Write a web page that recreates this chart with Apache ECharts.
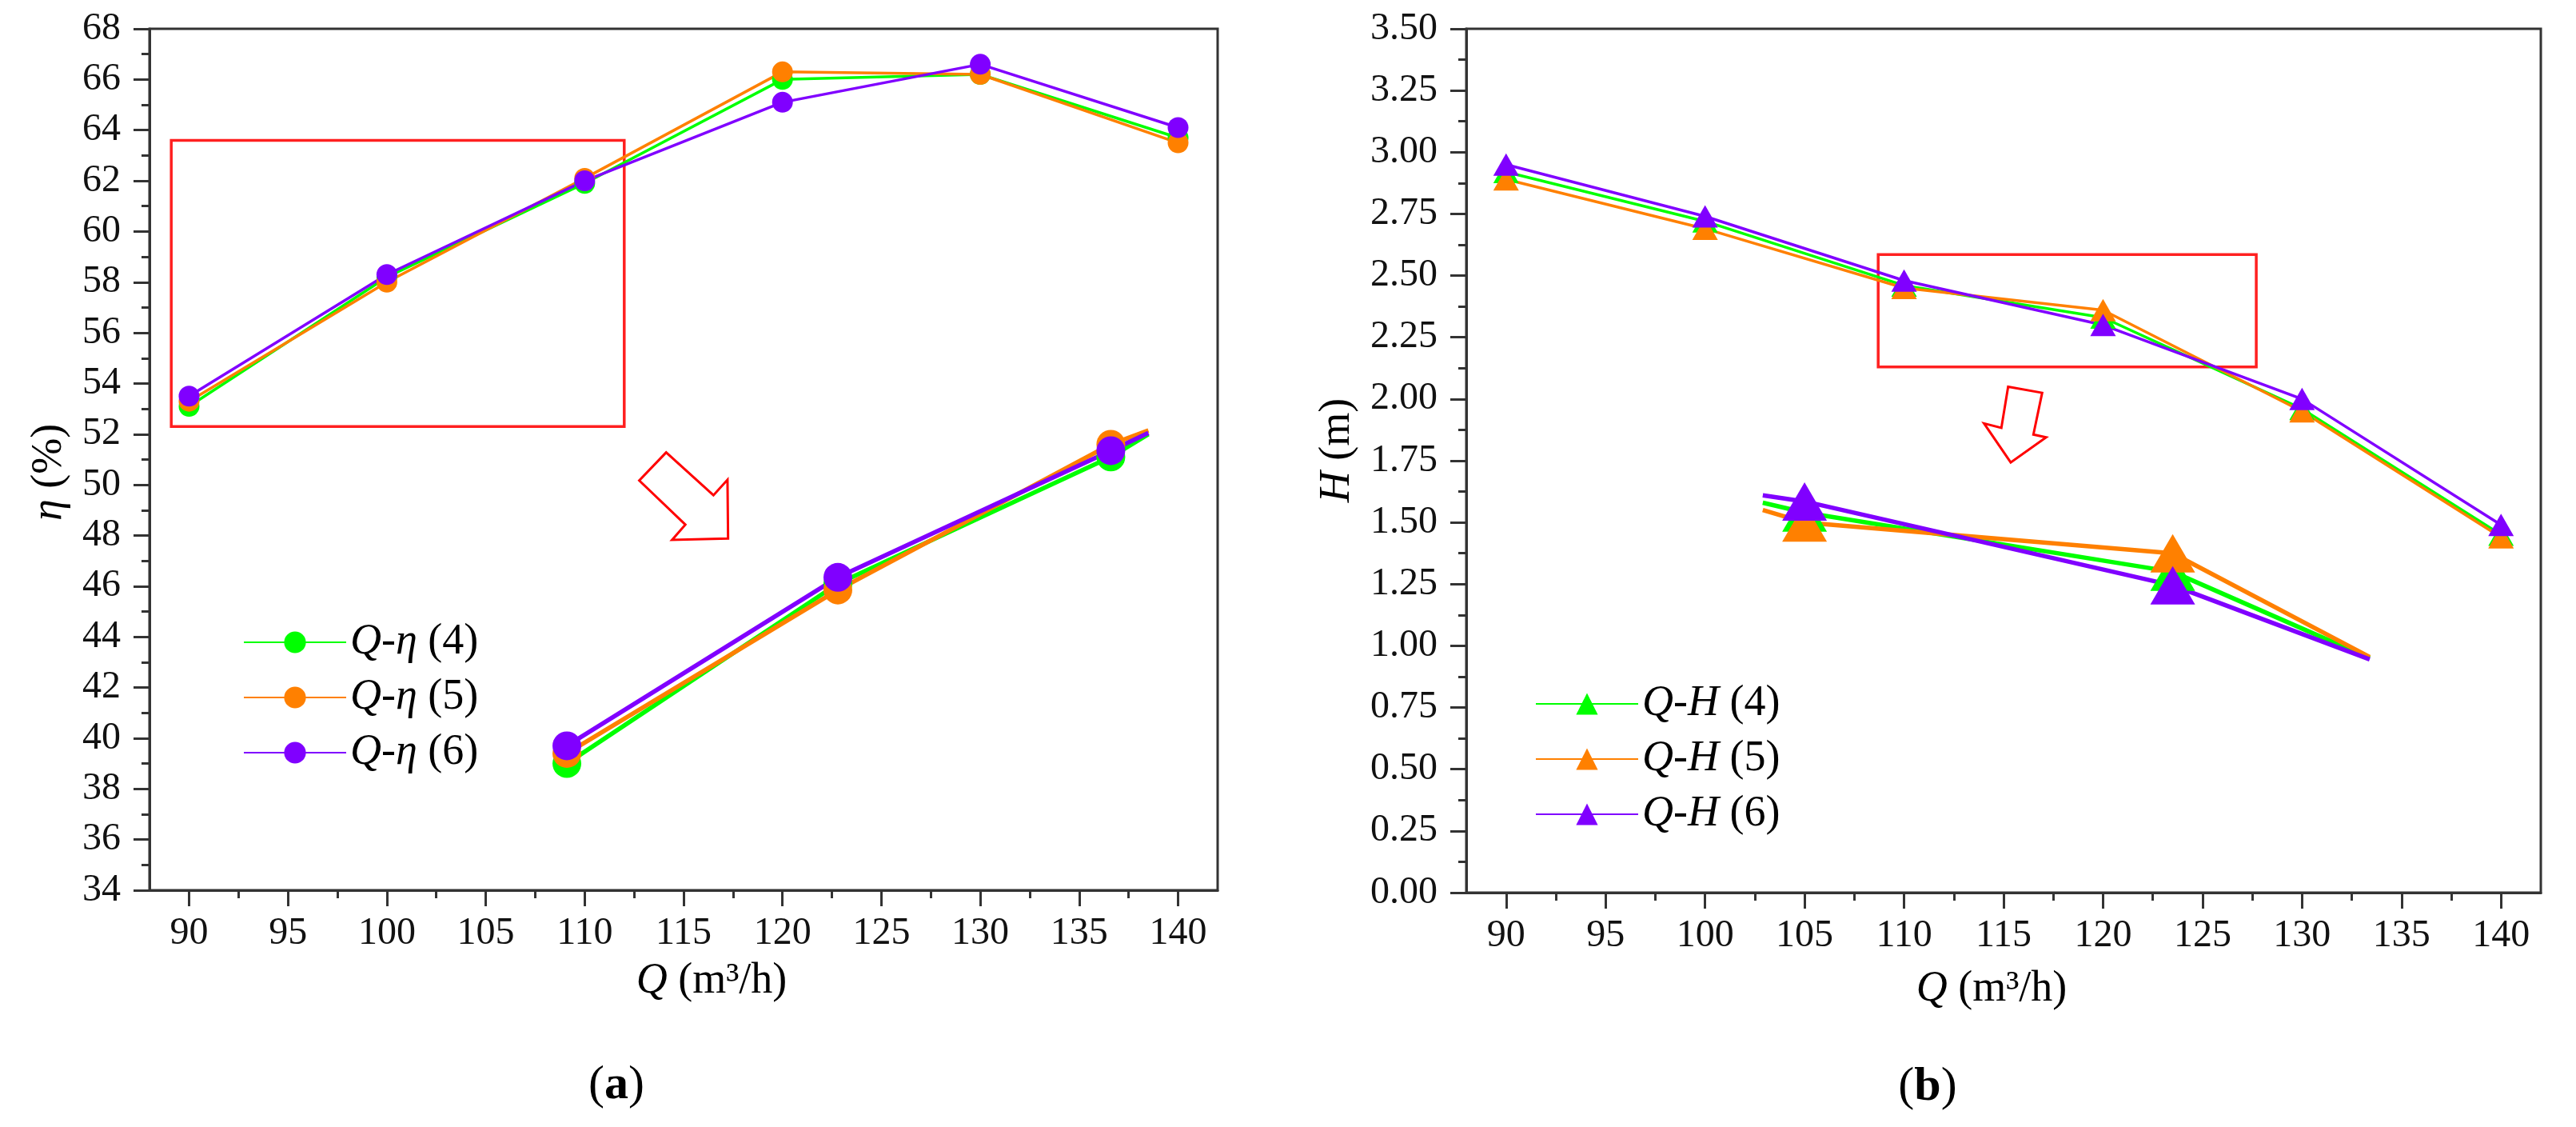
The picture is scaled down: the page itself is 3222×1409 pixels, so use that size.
<!DOCTYPE html>
<html><head><meta charset="utf-8">
<script src="https://cdn.jsdelivr.net/npm/echarts@6.0.0/dist/echarts.min.js"></script>
<style>html,body{margin:0;padding:0;background:#fff}#c{width:3222px;height:1409px}</style>
</head><body><div id="c"></div>
<script>
// ---------- data ----------
const flowQ = [90, 100, 110, 120, 130, 140];
const effCase4 = [53.1, 58.2, 61.9, 66.0, 66.2, 63.7];
const effCase5 = [53.3, 58.0, 62.1, 66.3, 66.2, 63.5];
const effCase6 = [53.5, 58.3, 62.0, 65.1, 66.6, 64.1];
const headCase4 = [2.92, 2.72, 2.46, 2.33, 1.96, 1.45];
const headCase5 = [2.89, 2.69, 2.45, 2.36, 1.95, 1.44];
const headCase6 = [2.95, 2.74, 2.48, 2.30, 2.00, 1.49];

// magnified insets (as drawn on the main axes)
const insetFlowEff = [109.1, 122.8, 136.6, 138.5];
const insetEff4 = [39.0, 46.1, 51.1, 52.0];
const insetEff5 = [39.4, 45.85, 51.6, 52.15];
const insetEff6 = [39.7, 46.35, 51.35, 52.05];
const insetFlowHead = [102.9, 105.0, 123.5, 133.4];
const insetHead4 = [1.58, 1.54, 1.30, 0.95];
const insetHead5 = [1.55, 1.50, 1.375, 0.955];
const insetHead6 = [1.61, 1.585, 1.245, 0.945];

// zoom boxes and arrows (data coordinates)
const zoomBoxEff = [[89.1, 52.3], [112.0, 63.6]];
const zoomBoxHead = [[108.7, 2.13], [127.7, 2.585]];
const arrowEff = [[114.12, 51.28], [112.76, 50.17], [115.09, 48.43], [114.42, 47.83], [117.25, 47.88], [117.22, 50.20], [116.51, 49.59]];
const arrowHead = [[115.23, 2.050], [116.94, 2.025], [116.50, 1.856], [117.14, 1.845], [115.36, 1.743], [114.02, 1.901], [114.89, 1.883]];

// ticks and labels
const majorQTicks = [90, 95, 100, 105, 110, 115, 120, 125, 130, 135, 140];
const minorQTicks = [92.5, 97.5, 102.5, 107.5, 112.5, 117.5, 122.5, 127.5, 132.5, 137.5];
const legendEff = ['Q-η (4)', 'Q-η (5)', 'Q-η (6)'];
const legendHead = ['Q-H (4)', 'Q-H (5)', 'Q-H (6)'];
const panelLabels = ['a', 'b'];

// ---------- styling ----------
const FONT = 'Liberation Serif';
const colors = ['#00ff00', '#ff8000', '#8000ff'];
const axisColor = '#333';
const labelColor = '#111';
const fs = 48;      // tick labels
const nfs = 54;     // axis names and legend

const chart = echarts.init(document.getElementById('c'));

function richText(size) {
  return {fontSize: size, fontFamily: FONT, color: '#000', lineHeight: size,
    rich: {i: {fontStyle: 'italic', fontSize: size, fontFamily: FONT, color: '#000', lineHeight: size}}};
}

function xAxes(grid, nameGap, namePad) {
  const base = {gridIndex: grid, type: 'value', min: 88, max: 142, position: 'bottom', splitLine: {show: false}};
  return [
    Object.assign({}, base, {
      axisLine: {onZero: false, lineStyle: {color: axisColor, width: 3}},
      axisTick: {customValues: majorQTicks, length: 20, lineStyle: {color: axisColor, width: 3}},
      axisLabel: {customValues: majorQTicks, margin: 30, fontSize: fs, fontFamily: FONT, color: labelColor},
      name: '{i|Q} (m³/h)', nameLocation: 'middle', nameGap: nameGap,
      nameTextStyle: Object.assign(richText(nfs), {padding: namePad})
    }),
    Object.assign({}, base, {
      axisLine: {show: false},
      axisTick: {customValues: minorQTicks, length: 10, lineStyle: {color: axisColor, width: 3}},
      axisLabel: {show: false}
    })
  ];
}

function yAxis(grid, min, max, interval, name, nameGap, namePad, fmt) {
  return {
    gridIndex: grid, type: 'value', min: min, max: max, interval: interval,
    axisLine: {show: true, onZero: false, lineStyle: {color: axisColor, width: 3}},
    axisTick: {show: true, length: 20, lineStyle: {color: axisColor, width: 3}},
    minorTick: {show: true, splitNumber: 2, length: 10, lineStyle: {color: axisColor, width: 3}},
    splitLine: {show: false}, minorSplitLine: {show: false},
    axisLabel: {margin: 36, fontSize: fs, fontFamily: FONT, color: labelColor, formatter: fmt},
    name: name, nameLocation: 'middle', nameGap: nameGap,
    nameTextStyle: Object.assign(richText(nfs), {padding: namePad})
  };
}

function legend(names, left, top, sym) {
  return {
    data: names, orient: 'vertical', left: left, top: top, itemWidth: 128, itemHeight: 34, itemGap: 15,
    selectedMode: false,
    textStyle: richText(nfs),
    formatter: n => '{i|Q}-{i|' + sym + '}' + n.slice(3)
  };
}

const series = [];
const effSets = [effCase4, effCase5, effCase6];
const headSets = [headCase4, headCase5, headCase6];
const insetEffSets = [insetEff4, insetEff5, insetEff6];
const insetHeadSets = [insetHead4, insetHead5, insetHead6];

for (let i = 0; i < 3; i++) {
  series.push({
    type: 'line', name: legendEff[i], xAxisIndex: 0, yAxisIndex: 0,
    data: flowQ.map((q, j) => [q, effSets[i][j]]),
    symbol: 'circle', symbolSize: 26, showAllSymbol: true,
    lineStyle: {color: colors[i], width: 3.5}, itemStyle: {color: colors[i]}, z: 3
  });
  series.push({
    type: 'line', name: 'effInset' + i, xAxisIndex: 0, yAxisIndex: 0,
    data: insetFlowEff.map((q, j) => ({value: [q, insetEffSets[i][j]], symbol: j < 3 ? 'circle' : 'none'})),
    symbol: 'circle', symbolSize: 36, showAllSymbol: true,
    lineStyle: {color: colors[i], width: 5.5}, itemStyle: {color: colors[i]}, z: 3
  });
  series.push({
    type: 'line', name: legendHead[i], xAxisIndex: 2, yAxisIndex: 1,
    data: flowQ.map((q, j) => [q, headSets[i][j]]),
    symbol: 'triangle', symbolSize: [32, 28], showAllSymbol: true,
    lineStyle: {color: colors[i], width: 3.5}, itemStyle: {color: colors[i]}, z: 3
  });
  series.push({
    type: 'line', name: 'headInset' + i, xAxisIndex: 2, yAxisIndex: 1,
    data: insetFlowHead.map((q, j) => ({value: [q, insetHeadSets[i][j]], symbol: (j === 1 || j === 2) ? 'triangle' : 'none'})),
    symbol: 'triangle', symbolSize: [56, 48], showAllSymbol: true,
    lineStyle: {color: colors[i], width: 5.5}, itemStyle: {color: colors[i]}, z: 3
  });
}

function annotation(xi, yi, box, arrow) {
  return {
    type: 'custom', xAxisIndex: xi, yAxisIndex: yi, silent: true, z: 1,
    data: [arrow[0]],
    renderItem: (p, api) => ({
      type: 'polygon',
      shape: {points: arrow.map(v => api.coord(v))},
      style: {fill: 'none', stroke: '#ff0000', lineWidth: 3}
    }),
    markArea: {
      silent: true,
      itemStyle: {color: 'rgba(0,0,0,0)', borderColor: '#ff2020', borderWidth: 3.5},
      data: [[{coord: [box[0][0], box[1][1]]}, {coord: [box[1][0], box[0][1]]}]]
    }
  };
}
series.push(annotation(0, 0, zoomBoxEff, arrowEff));
series.push(annotation(2, 1, zoomBoxHead, arrowHead));

const option = {
  animation: false,
  backgroundColor: '#fff',
  grid: [
    {left: 187, top: 36, width: 1336, height: 1077, show: true, borderColor: axisColor, borderWidth: 3, backgroundColor: 'rgba(0,0,0,0)', outerBoundsMode: 'none'},
    {left: 1834, top: 36, width: 1344, height: 1080, show: true, borderColor: axisColor, borderWidth: 3, backgroundColor: 'rgba(0,0,0,0)', outerBoundsMode: 'none'}
  ],
  xAxis: [].concat(xAxes(0, 87, [0, 0, 0, 70]), xAxes(1, 94, [0, 30, 0, 0])),
  yAxis: [
    yAxis(0, 34, 68, 2, '{i|η} (%)', 98, [0, 32, 0, 0], v => String(v)),
    yAxis(1, 0, 3.5, 0.25, '{i|H} (m)', 134, [0, 0, 0, 26], v => v.toFixed(2))
  ],
  legend: [legend(legendEff, 299, 771, 'η'), legend(legendHead, 1915, 848, 'H')],
  series: series,
  graphic: [
    {type: 'text', x: 771, y: 1357, style: {text: '({b|' + panelLabels[0] + '})', align: 'center', verticalAlign: 'middle',
      fontSize: 60, fontFamily: FONT, fill: '#000', rich: {b: {fontWeight: 'bold', fontSize: 60, fontFamily: FONT, fill: '#000'}}}},
    {type: 'text', x: 2411, y: 1359, style: {text: '({b|' + panelLabels[1] + '})', align: 'center', verticalAlign: 'middle',
      fontSize: 60, fontFamily: FONT, fill: '#000', rich: {b: {fontWeight: 'bold', fontSize: 60, fontFamily: FONT, fill: '#000'}}}}
  ]
};
chart.setOption(option);
</script>
</body></html>
